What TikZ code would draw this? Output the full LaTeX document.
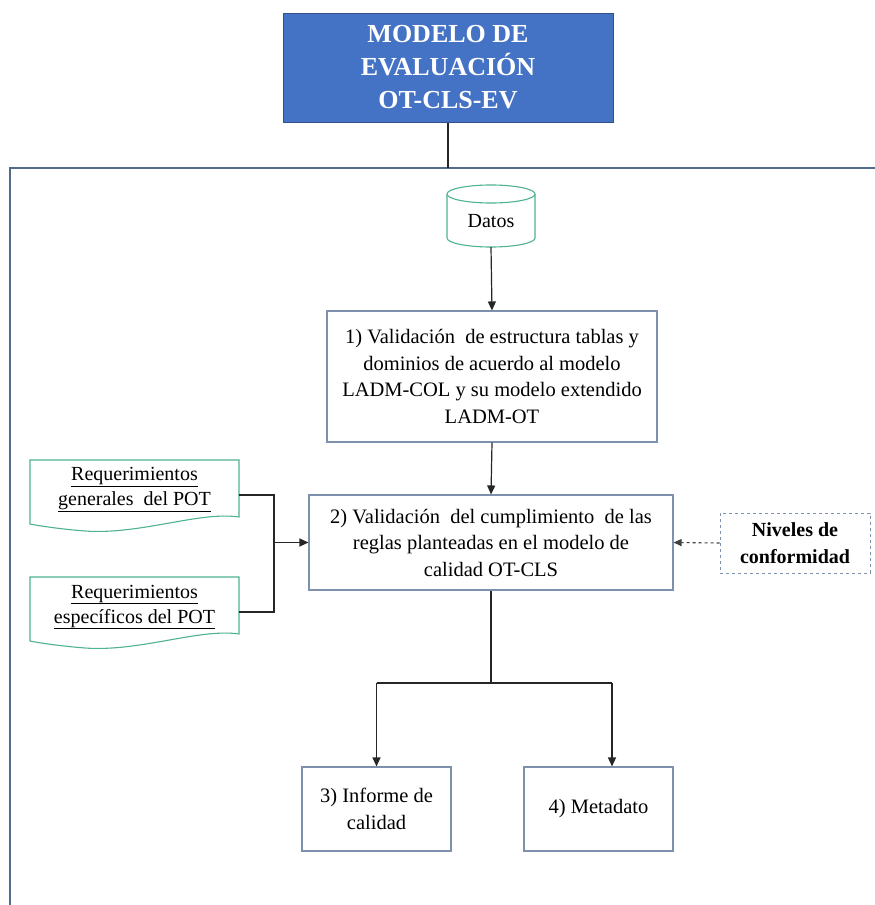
\documentclass[tikz,border=0pt]{standalone}
\usepackage{fontspec}
\setmainfont{Liberation Serif}
\usetikzlibrary{arrows.meta}

\definecolor{titlefill}{RGB}{68,114,196}
\definecolor{titleedge}{RGB}{47,82,143}
\definecolor{frameedge}{RGB}{84,108,138}
\definecolor{boxedge}{RGB}{125,145,172}
\definecolor{tealedge}{RGB}{78,178,148}

\tikzset{
  body/.style={font=\fontsize{20}{25}\selectfont, align=center, text=black},
  procbox/.style={font=\fontsize{20.5}{26.5}\selectfont, align=center, text=black,
    draw=boxedge, line width=1.1pt, fill=white, inner sep=0pt},
  titlebox/.style={draw=titleedge, line width=1pt, fill=titlefill, text=white,
    font=\fontsize{26}{33}\selectfont\bfseries, align=center, inner sep=0pt},
  dashbox/.style={draw=boxedge, dashed, line width=1pt, align=center,
    font=\fontsize{20}{27}\selectfont\bfseries, inner sep=0pt},
  docedge/.style={draw=tealedge, line width=1.1pt, fill=white},
  ghost/.style={draw=none, inner sep=0pt},
  link/.style={draw=black!85, line width=1.2pt},
  arrowlink/.style={link, -{Triangle[length=9pt,width=8pt]}},
  dasharrow/.style={draw=black!75, line width=1.1pt, dashed,
    -{Triangle[length=8pt,width=7pt]}}
}

\begin{document}
\begin{tikzpicture}[x=1pt,y=-1pt]
  \useasboundingbox (0,0) rectangle (875,905);

  % outer frame (top and left edges)
  \draw[frameedge, line width=1.2pt] (10,905) -- (10,168) -- (875,168);

  % title
  \node[titlebox, minimum width=330pt, minimum height=109pt] (title) at (448,67.5)
    {MODELO DE\\EVALUACIÓN\\OT-CLS-EV};
  \coordinate (frametop) at (448,168);
  \draw[link] (title.south) -- (frametop);

  % data store: cylinder outline around a text node
  \draw[docedge] (447,194) -- (447,238)
    arc[start angle=180, end angle=0, x radius=44, y radius=9]
    -- (535,194);
  \draw[docedge] (491,194) circle[x radius=44, y radius=9];
  \node[body, ghost, minimum width=88pt, minimum height=62pt] (datos) at (491,216) {};
  \node[body] at (491,221) {Datos};

  % process boxes
  \node[procbox, minimum width=330pt, minimum height=131pt] (val1) at (492,376.5)
    {1) Validación\ \ de estructura tablas y\\dominios de acuerdo al modelo\\LADM-COL y su modelo extendido\\LADM-OT};
  \node[procbox, minimum width=364pt, minimum height=95pt] (val2) at (491,542.5)
    {2) Validación\ \ del cumplimiento\ \ de las\\reglas planteadas en el modelo de\\calidad OT-CLS};
  \node[procbox, minimum width=149pt, minimum height=84pt] (inf) at (376.5,809)
    {3) Informe de\\calidad};
  \node[procbox, minimum width=149pt, minimum height=84pt] (meta) at (598.5,809)
    {4) Metadato};

  % requirement documents
  \draw[docedge] (30,460) -- (239,460) -- (239,517)
    .. controls (200,511) and (140,535) .. (85,531)
    .. controls (60,529) and (40,526) .. (30,524) -- cycle;
  \node[ghost, minimum width=209pt, minimum height=70pt] (reqg) at (134.5,495) {};
  \node[body] at (134.5,490) {\underline{Requerimientos}\\\underline{generales\ \ del POT}};

  \draw[docedge] (30,577) -- (239,577) -- (239,634)
    .. controls (200,628) and (140,652) .. (85,648)
    .. controls (60,646) and (40,643) .. (30,641) -- cycle;
  \node[ghost, minimum width=209pt, minimum height=70pt] (reqe) at (134.5,612) {};
  \node[body] at (134.5,607) {\underline{Requerimientos}\\\underline{específicos del POT}};

  % conformity levels
  \node[dashbox, minimum width=150pt, minimum height=60pt] (niv) at (795,543)
    {Niveles de\\conformidad};

  % connectors
  \draw[arrowlink] (datos.south) -- (val1.north);
  \draw[arrowlink] (val1.south) -- (val2.north);

  \coordinate (join) at (274,542.5);
  \draw[link] (reqg.east) -| (join);
  \draw[link] (reqe.east) -| (join);
  \draw[arrowlink] (join) -- (val2.west);

  \draw[dasharrow] (niv.west) -- (val2.east);

  \coordinate (split) at (491,683);
  \coordinate (splitl) at (376.5,683);
  \coordinate (splitr) at (612,683);
  \draw[link] (val2.south) -- (split);
  \draw[link] (splitl) -- (splitr);
  \draw[arrowlink] (splitl) -- (inf.north);
  \draw[arrowlink] (splitr) -- (splitr |- meta.north);
\end{tikzpicture}
\end{document}
